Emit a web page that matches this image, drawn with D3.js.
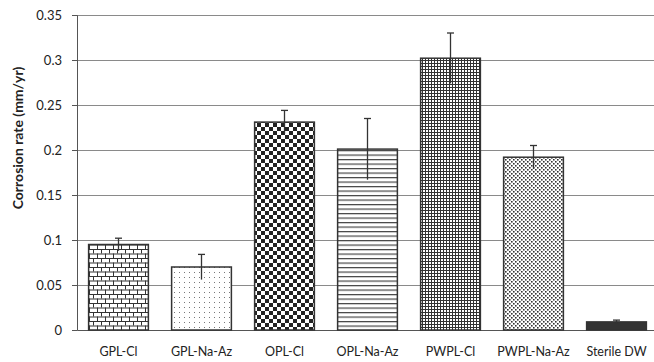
<!DOCTYPE html>
<html>
<head>
<meta charset="utf-8">
<script src="https://cdn.jsdelivr.net/npm/d3@7"></script>
<style>
  body { margin: 0; background: #fff; }
  text { font-family: Lato, "Open Sans", sans-serif; fill: #222; }
</style>
</head>
<body>
<div id="chart"></div>
<script>
var categories = ["GPL-Cl", "GPL-Na-Az", "OPL-Cl", "OPL-Na-Az", "PWPL-Cl", "PWPL-Na-Az", "Sterile DW"];
var rates = [0.095, 0.070, 0.231, 0.201, 0.302, 0.192, 0.009];
var errors = [0.007, 0.014, 0.013, 0.034, 0.028, 0.013, 0.002];
var patterns = ["brick", "sparse", "checker", "hlines", "grid", "dense", "solid"];
var yTicks = [0, 0.05, 0.1, 0.15, 0.2, 0.25, 0.3, 0.35];

var svg = d3.select("#chart")
  .append("svg")
  .attr("width", 654)
  .attr("height", 362);

var margin = {top: 15, right: -4, bottom: 32, left: 77},
    width = 654 - margin.left - margin.right,
    height = 362 - margin.top - margin.bottom;

var data = categories.map(function(c, i) {
  return {name: c, value: rates[i], err: errors[i], pat: patterns[i]};
});

// fill patterns
var defs = svg.append("defs");

var p = defs.append("pattern").attr("id", "brick").attr("patternUnits", "userSpaceOnUse")
  .attr("width", 8).attr("height", 9);
p.append("rect").attr("width", 8).attr("height", 9).attr("fill", "#fff");
p.append("path").attr("d", "M0,0.5H8M0,5H8M0.5,0V4.5M4.5,4.5V9")
  .attr("stroke", "#333").attr("stroke-width", 1).attr("fill", "none");

p = defs.append("pattern").attr("id", "sparse").attr("patternUnits", "userSpaceOnUse")
  .attr("width", 5).attr("height", 5);
p.append("rect").attr("width", 5).attr("height", 5).attr("fill", "#fff");
p.append("rect").attr("x", 2).attr("y", 2).attr("width", 1).attr("height", 1).attr("fill", "#777");

p = defs.append("pattern").attr("id", "checker").attr("patternUnits", "userSpaceOnUse")
  .attr("width", 8).attr("height", 8);
p.append("rect").attr("width", 8).attr("height", 8).attr("fill", "#fff");
p.append("rect").attr("width", 4).attr("height", 4).attr("fill", "#222");
p.append("rect").attr("x", 4).attr("y", 4).attr("width", 4).attr("height", 4).attr("fill", "#222");

p = defs.append("pattern").attr("id", "hlines").attr("patternUnits", "userSpaceOnUse")
  .attr("width", 8).attr("height", 4.5);
p.append("rect").attr("width", 8).attr("height", 4.5).attr("fill", "#fff");
p.append("rect").attr("y", 0).attr("width", 8).attr("height", 1.2).attr("fill", "#444");

p = defs.append("pattern").attr("id", "grid").attr("patternUnits", "userSpaceOnUse")
  .attr("width", 3).attr("height", 3);
p.append("rect").attr("width", 3).attr("height", 3).attr("fill", "#fff");
p.append("path").attr("d", "M0,0.5H3M0.5,0V3").attr("stroke", "#333").attr("stroke-width", 1);

p = defs.append("pattern").attr("id", "dense").attr("patternUnits", "userSpaceOnUse")
  .attr("width", 4).attr("height", 4);
p.append("rect").attr("width", 4).attr("height", 4).attr("fill", "#fff");
p.append("rect").attr("x", 0).attr("y", 0).attr("width", 1.6).attr("height", 1.6).attr("fill", "#333");
p.append("rect").attr("x", 2).attr("y", 2).attr("width", 1.6).attr("height", 1.6).attr("fill", "#333");

var x = d3.scaleBand()
  .domain(categories)
  .range([0, width])
  .paddingInner(0.28)
  .paddingOuter(0.14);

var y = d3.scaleLinear()
  .domain([0, 0.35])
  .range([height, 0]);

var g = svg.append("g")
  .attr("transform", "translate(" + margin.left + "," + margin.top + ")");

// gridlines
g.append("g")
  .selectAll("line").data(yTicks.slice(1)).enter().append("line")
  .attr("x1", 0).attr("x2", width)
  .attr("y1", function(d) { return Math.round(y(d)) + 0.5; })
  .attr("y2", function(d) { return Math.round(y(d)) + 0.5; })
  .attr("stroke", "#8a8a8a").attr("stroke-width", 1);

// y axis
var yAxis = g.append("g")
  .attr("class", "axis axis--y")
  .call(d3.axisLeft(y).tickValues(yTicks).tickSize(5).tickPadding(10)
    .tickFormat(function(d) { return d3.format("")(+d.toFixed(2)); }));
yAxis.select(".domain").attr("stroke", "#555");
yAxis.selectAll(".tick line").attr("stroke", "#555");
yAxis.selectAll("text").style("font-size", "13px").attr("fill", "#222");

// x axis
var xAxis = g.append("g")
  .attr("class", "axis axis--x")
  .attr("transform", "translate(0," + height + ")")
  .call(d3.axisBottom(x).tickSize(0).tickPadding(17));
xAxis.select(".domain").attr("stroke", "#555");
xAxis.selectAll("text").style("font-size", "12.5px").attr("fill", "#222");

// bars
g.selectAll(".bar")
  .data(data)
  .enter().append("rect")
  .attr("class", "bar")
  .attr("x", function(d) { return x(d.name); })
  .attr("y", function(d) { return y(d.value); })
  .attr("width", x.bandwidth())
  .attr("height", function(d) { return height - y(d.value); })
  .attr("fill", function(d) { return d.pat === "solid" ? "#333" : "url(#" + d.pat + ")"; })
  .attr("stroke", "#333")
  .attr("stroke-width", 1.5);

// error bars (top cap only)
var eb = g.selectAll(".err")
  .data(data)
  .enter().append("g")
  .attr("class", "err")
  .attr("stroke", "#333")
  .attr("stroke-width", 1.3);

eb.append("line")
  .attr("x1", function(d) { return x(d.name) + x.bandwidth() / 2; })
  .attr("x2", function(d) { return x(d.name) + x.bandwidth() / 2; })
  .attr("y1", function(d) { return y(d.value + d.err); })
  .attr("y2", function(d) { return y(d.value - d.err); });

eb.append("line")
  .attr("x1", function(d) { return x(d.name) + x.bandwidth() / 2 - 3.5; })
  .attr("x2", function(d) { return x(d.name) + x.bandwidth() / 2 + 3.5; })
  .attr("y1", function(d) { return y(d.value + d.err); })
  .attr("y2", function(d) { return y(d.value + d.err); });

// axis title
svg.append("text")
  .attr("transform", "translate(23,138) rotate(-90)")
  .attr("text-anchor", "middle")
  .style("font-size", "14px")
  .style("font-weight", "bold")
  .text("Corrosion rate (mm/yr)");
</script>
</body>
</html>
